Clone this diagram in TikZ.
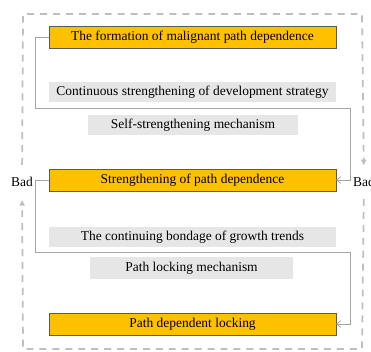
\documentclass[tikz,border=0pt]{standalone}
\usepackage{fontspec}
\setmainfont{Liberation Serif}
\usetikzlibrary{arrows.meta,positioning}
\definecolor{stagegold}{HTML}{FFC000}
\definecolor{mechgray}{HTML}{E7E6E6}
\definecolor{conngray}{HTML}{A6A6A6}
\definecolor{loopgray}{HTML}{BFBFBF}

\begin{document}
\begin{tikzpicture}[
  x=0.75pt, y=-0.75pt,
  font=\fontsize{10.1}{12}\selectfont,
  stage/.style={draw=black!65, fill=stagegold, minimum width=215pt, minimum height=16.5pt, inner sep=0pt},
  mech/.style={fill=mechgray, minimum height=15pt, inner sep=0pt},
  conn/.style={draw=conngray, line width=0.6pt, -{Straight Barb[length=3pt,width=5pt]}},
  loopline/.style={draw=loopgray, line width=1.3pt, dash pattern=on 5.2pt off 4.5pt},
  lptip/.style={-{Triangle[length=4pt,width=4pt]}},
  bad/.style={inner sep=1pt},
]
\useasboundingbox (0,0) rectangle (371,352);

\node[stage] (f1) at (192.5,37) {The formation of malignant path dependence};
\node[mech, minimum width=215pt] (g1) at (192.5,92) {Continuous strengthening of development strategy};
\node[mech, minimum width=157.5pt] (g2) at (193,125) {Self-strengthening mechanism};
\node[stage] (f2) at (192.5,180) {Strengthening of path dependence};
\node[mech, minimum width=215pt] (g3) at (192.5,237) {The continuing bondage of growth trends};
\node[mech, minimum width=152pt, minimum height=16.5pt] (g4) at (191.5,268) {Path locking mechanism};
\node[stage] (f3) at (192.5,324) {Path dependent locking};

\node[bad] (badL) at (22,182) {Bad};
\node[bad] (badR) at (364,182) {Bad};

\coordinate (tl) at (23,14);
\coordinate (tr) at (362,14);
\coordinate (br) at (362,349);
\coordinate (bl) at (23,349);
\draw[loopline, lptip, shorten <=8pt, shorten >=8pt] (badL) -- (tl) -- (tr) -- (badR);
\draw[loopline, lptip, shorten <=8pt, shorten >=9pt] (badR) -- (br) -- (bl) -- (badL);

\coordinate (k1) at (350,108);
\coordinate (k2) at (350,252);
\draw[conn] (f1.west) -- ++(-14,0) |- (k1) |- (f2.east);
\draw[conn] (f2.west) -- ++(-14,0) |- (k2) |- (f3.east);
\end{tikzpicture}
\end{document}
